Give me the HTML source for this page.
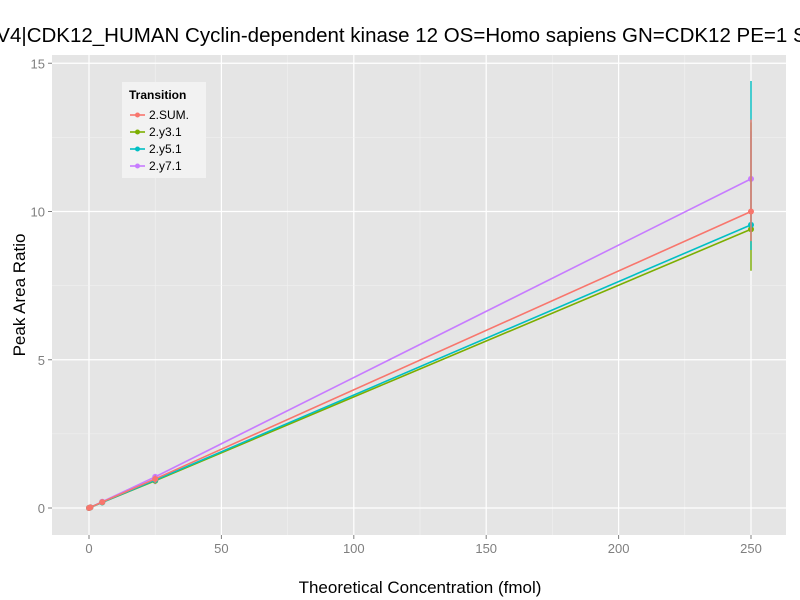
<!DOCTYPE html>
<html><head><meta charset="utf-8"><style>body{margin:0;background:#fff;overflow:hidden}svg{display:block;font-family:"Liberation Sans",sans-serif}</style></head>
<body>
<svg id="chart" width="800" height="600">
<rect x="52" y="55" width="734" height="480" fill="#e5e5e5"/>
<g id="grid"></g><g id="series"></g><g id="axes"></g>
<text x="420" y="42" text-anchor="middle" font-size="20.5">V4|CDK12_HUMAN Cyclin-dependent kinase 12 OS=Homo sapiens GN=CDK12 PE=1 SV=2</text>
<text x="420" y="593" text-anchor="middle" font-size="17">Theoretical Concentration (fmol)</text>
<text transform="translate(25,295) rotate(-90)" text-anchor="middle" font-size="17">Peak Area Ratio</text>
<g>
<rect x="122" y="82" width="84" height="96" fill="#f2f2f2"/>
<text x="129" y="99" font-size="12" font-weight="bold">Transition</text>
<g id="legend"></g>
</g>
</svg>
<script>
const xVals=[0,0.5,5,25,250];
const seriesNames=["2.SUM.","2.y3.1","2.y5.1","2.y7.1"];
const colors=["#f8766d","#7cae00","#00bfc4","#c77cff"];
const ySUM=[0,0.02,0.2,0.98,10.0];
const yY3=[0,0.02,0.19,0.92,9.4];
const yY5=[0,0.02,0.19,0.94,9.55];
const yY7=[0,0.02,0.21,1.05,11.1];
const errLo=[[0,0,0.18,0.85,9.0],[0,0,0.17,0.85,8.0],[0,0,0.17,0.85,8.7],[0,0,0.19,0.8,9.4]];
const errHi=[[0,0,0.22,1.1,13.1],[0,0,0.21,1.0,13.0],[0,0,0.21,1.0,14.4],[0,0,0.23,1.15,12.7]];
const xTicks=[0,50,100,150,200,250];
const yTicks=[0,5,10,15];
const allY=[ySUM,yY3,yY5,yY7];
const X=v=>89+v*2.648, Y=v=>508-v*29.65;
const ns="http://www.w3.org/2000/svg";
function mk(t,a,p){const e=document.createElementNS(ns,t);for(const k in a)e.setAttribute(k,a[k]);p.appendChild(e);return e;}
const grid=document.getElementById('grid'),axes=document.getElementById('axes'),ser=document.getElementById('series'),leg=document.getElementById('legend');
xTicks.forEach((t,i)=>{
 const l=mk('line',{x1:X(t),x2:X(t),y1:55,y2:535,stroke:'#fff','stroke-width':1.2},grid);
 
 
 if(i<xTicks.length-1){const m=mk('line',{x1:X(t+25),x2:X(t+25),y1:55,y2:535,stroke:'#f2f2f2','stroke-width':0.6},grid);
 
 }
 mk('line',{x1:X(t),x2:X(t),y1:535,y2:539,stroke:'#7f7f7f'},axes);
 const tx=mk('text',{x:X(t),y:553,'text-anchor':'middle','font-size':13,fill:'#7f7f7f'},axes);tx.textContent=t;
 
 
});
yTicks.forEach((t,i)=>{
 const l=mk('line',{x1:52,x2:786,y1:Y(t),y2:Y(t),stroke:'#fff','stroke-width':1.2},grid);
 
 
 if(i<yTicks.length-1){const m=mk('line',{x1:52,x2:786,y1:Y(t+2.5),y2:Y(t+2.5),stroke:'#f2f2f2','stroke-width':0.6},grid);
 
 }
 mk('line',{x1:48,x2:52,y1:Y(t),y2:Y(t),stroke:'#7f7f7f'},axes);
 const tx=mk('text',{x:45,y:Y(t)+5,'text-anchor':'end','font-size':13,fill:'#7f7f7f'},axes);tx.textContent=t;
 
 
});
[3,1,2,0].forEach(s=>{
 const g=mk('g',{},ser);
 
 
 const pts=xVals.map((x,i)=>X(x)+','+Y(allY[s][i])).join(' ');
 mk('polyline',{points:pts,fill:'none',stroke:colors[s],'stroke-width':1.6},g);
 xVals.forEach((x,i)=>{
  const e=mk('line',{x1:X(x),x2:X(x),y1:Y(errLo[s][i]),y2:Y(errHi[s][i]),stroke:colors[s],'stroke-width':1.4},g);
  
  
  const c=mk('circle',{cx:X(x),cy:Y(allY[s][i]),r:3,fill:colors[s]},g);
  
  
 });
});
seriesNames.forEach((n,i)=>{
 const y=115+i*17;
 const g=mk('g',{},leg);
 
 
 mk('line',{x1:130,x2:145,y1:y,y2:y,stroke:colors[i],'stroke-width':1.6},g);
 mk('circle',{cx:137.5,cy:y,r:2.5,fill:colors[i]},g);
 const t=mk('text',{x:149,y:y+4,'font-size':12},g);t.textContent=n;
});
</script>
</body></html>
